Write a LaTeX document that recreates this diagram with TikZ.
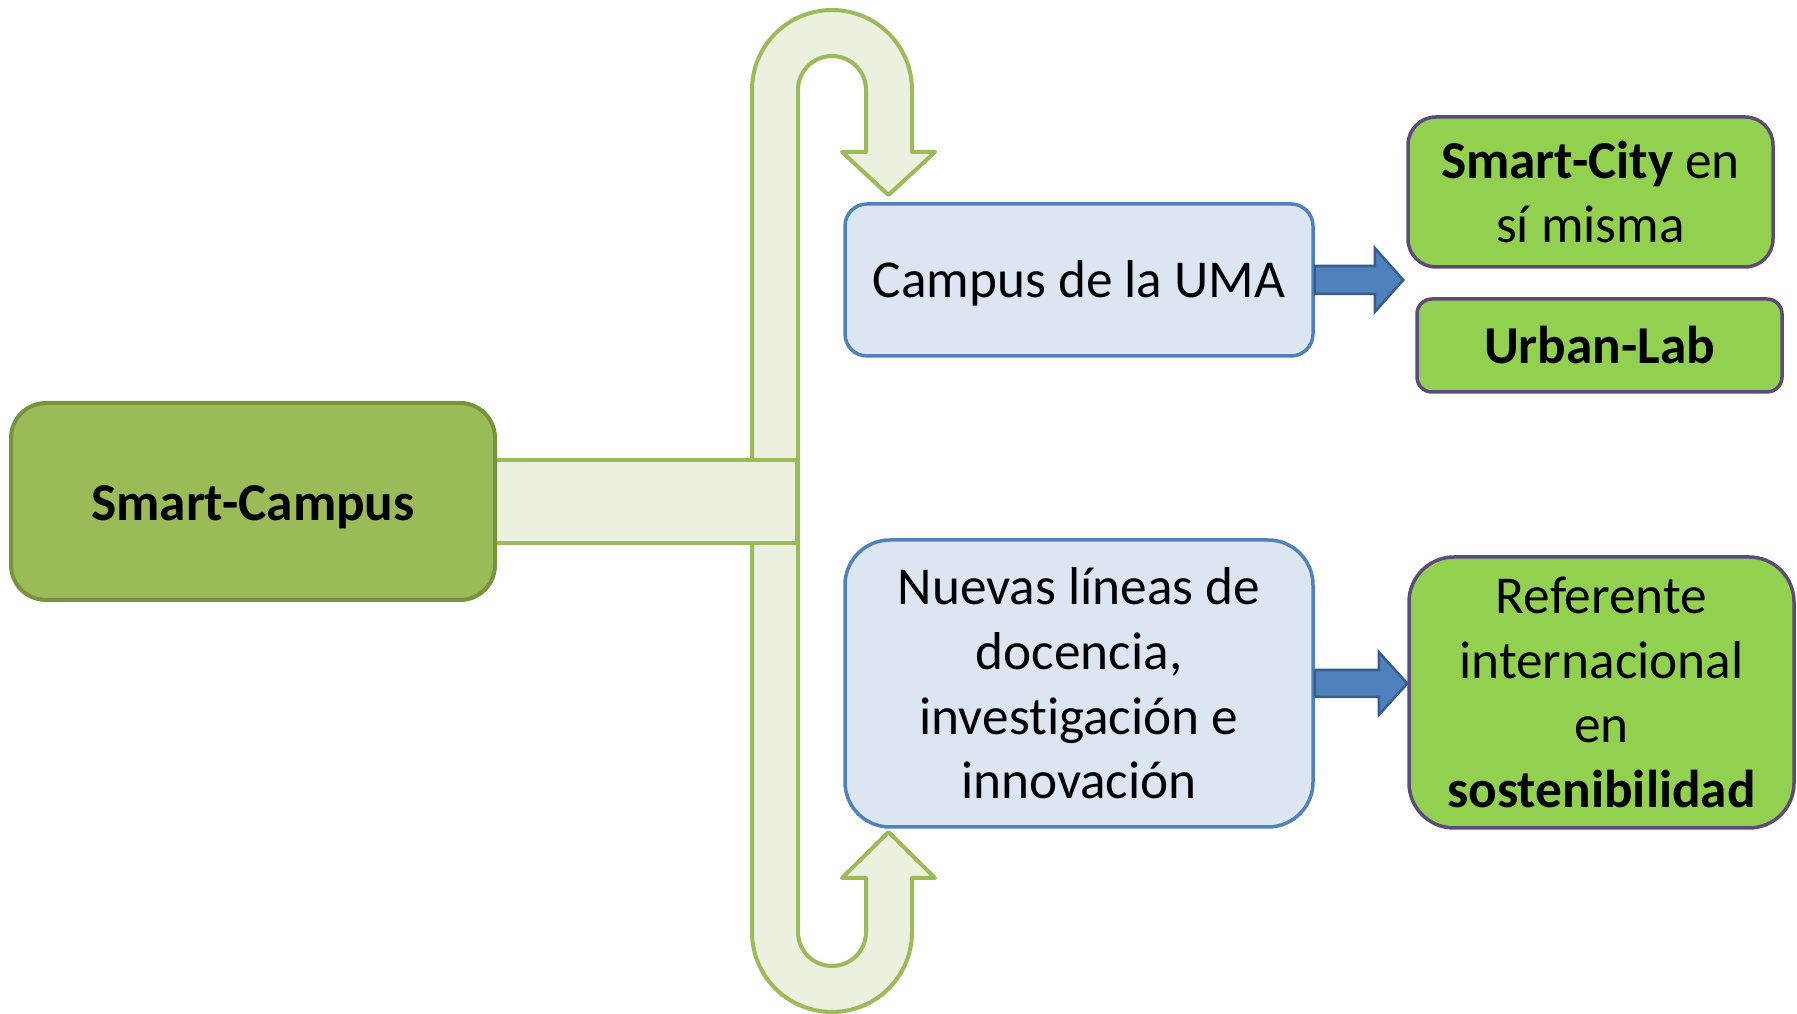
\documentclass[tikz,border=0pt]{standalone}
\usepackage{fontspec}
\setmainfont{Carlito}[Ligatures=NoCommon]
\usetikzlibrary{calc}
\definecolor{scfill}{HTML}{9BBB59}
\definecolor{scdraw}{HTML}{77933C}
\definecolor{ufill}{HTML}{EBF1DE}
\definecolor{udraw}{HTML}{9BBB59}
\definecolor{bfill}{HTML}{DCE6F2}
\definecolor{bdraw}{HTML}{4F81BD}
\definecolor{gfill}{HTML}{92D050}
\definecolor{gdraw}{HTML}{5F497A}
\definecolor{afill}{HTML}{4F81BD}
\definecolor{adraw}{HTML}{385D8A}
\tikzset{
  bigtext/.style={font=\fontsize{53.3}{64.6}\selectfont, align=center, text=black},
  rootbox/.style={bigtext, draw=scdraw, fill=scfill, line width=4pt, inner sep=0pt},
  bluebox/.style={bigtext, draw=bdraw, fill=bfill, line width=3.5pt, inner sep=0pt},
  greenbox/.style={bigtext, draw=gdraw, fill=gfill, line width=3.5pt, inner sep=0pt},
  uarrow/.style={draw=udraw, fill=ufill, line width=4pt, line join=round},
  blockarrow/.style={draw=adraw, fill=afill, line width=2.5pt, line join=miter},
}
\begin{document}
\begin{tikzpicture}[x=1pt,y=1pt]
\useasboundingbox (0,0) rectangle (1797,1014);

% U-turn arrows
\draw[uarrow] (752,512) -- (752,924) arc[start angle=180, end angle=0, radius=80]
  -- (912,862) -- (935,862) -- (888.5,819) -- (842,862) -- (866,862) -- (866,924)
  arc[start angle=0, end angle=180, radius=34] -- (798,512) -- cycle;
\draw[uarrow] (752,512) -- (752,82) arc[start angle=180, end angle=360, radius=80]
  -- (912,136) -- (935,136) -- (888.5,182) -- (842,136) -- (866,136) -- (866,82)
  arc[start angle=360, end angle=180, radius=34] -- (798,512) -- cycle;

% horizontal bar
\draw[uarrow, line join=miter] (495,471) rectangle (797,554);

% nodes
\node[rootbox, rounded corners=35pt, minimum width=484pt, minimum height=197pt,
  text height=44pt, text depth=6pt]
  (root) at (253,512.5) {\textbf{Smart-Campus}};
\node[bluebox, rounded corners=22pt, minimum width=468pt, minimum height=152pt,
  text height=42pt, text depth=6pt]
  (campus) at (1079,734) {Campus de la UMA};
\node[bluebox, rounded corners=45pt, minimum width=468pt, minimum height=287pt]
  (nuevas) at (1079,330.5) {Nuevas líneas de\\docencia,\\investigación e\\innovación};
\node[greenbox, rounded corners=28pt, minimum width=365pt, minimum height=150pt]
  (city) at (1590.5,822) {\textbf{Smart-City} en\\sí misma};
\node[greenbox, rounded corners=15pt, minimum width=365pt, minimum height=93pt]
  (urban) at (1599.5,668.5) {\textbf{Urban-Lab}};
\node[greenbox, rounded corners=45pt, minimum width=385pt, minimum height=271pt]
  (ref) at (1601.5,321.5) {Referente\\internacional\\en\\\textbf{sostenibilidad}};

% block arrows
\coordinate (t1) at ($(campus.east -| city.west)+(-3,0)$);
\draw[blockarrow] ($(campus.east)+(0,14)$) -- ++(60,0) -- ++(0,18) -- (t1)
  -- ($(campus.east)+(60,-32)$) -- ++(0,18) -- ($(campus.east)+(0,-14)$) -- cycle;
\coordinate (t2) at (nuevas.east -| ref.west);
\draw[blockarrow] ($(nuevas.east)+(0,13.5)$) -- ++(64,0) -- ++(0,18) -- (t2)
  -- ($(nuevas.east)+(64,-31.5)$) -- ++(0,18) -- ($(nuevas.east)+(0,-13.5)$) -- cycle;
\end{tikzpicture}
\end{document}
